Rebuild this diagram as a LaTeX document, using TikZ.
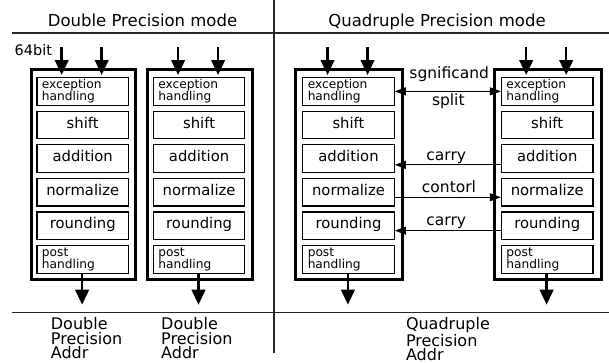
\documentclass[tikz,border=0pt]{standalone}
\usepackage{fontspec}
\setmainfont{DejaVu Sans}
\usetikzlibrary{arrows.meta,calc}
\begin{document}
\begin{tikzpicture}[x=1pt,y=-1pt,
  outerbox/.style={draw,line width=3pt},
  stagebase/.style={draw,line width=1.2pt,minimum width=91.5pt,minimum height=27.5pt,anchor=north},
  stageone/.style={stagebase,inner sep=0pt,font=\fontsize{14.8}{15}\selectfont,text height=11.2pt,text depth=5pt},
  stagetwo/.style={stagebase,inner xsep=5pt,inner ysep=0pt,text width=81.5pt,align=left,font=\fontsize{12.2}{12}\selectfont},
  bigarrow/.style={line width=2.5pt,-{Triangle[length=15pt,width=13.5pt]}},
  sidearrow/.style={line width=1pt,-{Triangle[length=11pt,width=8pt]}},
  dblarrow/.style={line width=1pt,{Triangle[length=11pt,width=8pt]}-{Triangle[length=11pt,width=8pt]}},
  midlabel/.style={anchor=base,inner sep=0pt,font=\fontsize{15.5}{16}\selectfont},
  title/.style={anchor=base,inner sep=0pt,font=\fontsize{16.5}{17}\selectfont},
  addr/.style={anchor=north west,inner sep=0pt,align=left,font=\fontsize{16}{14.3}\selectfont},
  rule/.style={line width=1.2pt,black!85}
]
\useasboundingbox (0,0) rectangle (609,362);

% frame lines
\draw[rule] (12,33) -- (609,33);
\draw[rule] (12,312.7) -- (609,312.7);
\draw[rule,line width=1.5pt] (274,0) -- (274,353);

% titles
\node[title] (t1) at (142.5,26.7) {Double Precision mode};
\node[title] (t2) at (437,26.7) {Quadruple Precision mode};
\node[anchor=base west,inner sep=0pt,font=\fontsize{14.5}{14}\selectfont] (bits) at (14.5,55) {64bit};

% outer boxes
\draw[outerbox] (31,69) rectangle (135.8,279.5);
\draw[outerbox] (147.2,69) rectangle (252.8,279.5);
\draw[outerbox] (295.8,69) rectangle (402.5,279.5);
\draw[outerbox] (494.8,69) rectangle (601.5,279.5);

% stages
\foreach \c/\x in {1/82.7,2/199.1,3/348.5,4/547.2}{
  \node[stagetwo] (e\c) at (\x,77) {exception\\handling};
  \node[stageone] (s\c) at (\x,110.6) {shift};
  \node[stageone] (a\c) at (\x,144.2) {addition};
  \node[stageone] (n\c) at (\x,177.8) {normalize};
  \node[stageone] (r\c) at (\x,211.4) {rounding};
  \node[stagetwo] (p\c) at (\x,245) {post\\handling};
  % input arrows
  \coordinate (ia\c) at ($(e\c.north)+(-21,-30)$);
  \coordinate (ib\c) at ($(e\c.north)+(19,-30)$);
  \draw[bigarrow,shorten >=2pt] (ia\c) -- (ia\c |- e\c.north);
  \draw[bigarrow,shorten >=2pt] (ib\c) -- (ib\c |- e\c.north);
  % output arrow
  \coordinate (o\c) at ($(p\c.south)+(-0.6,31)$);
  \draw[bigarrow] ($(p\c.south)+(-0.6,-1)$) -- (o\c);
}

% connections between the quadruple halves
\draw[dblarrow] (e3.east) -- (e4.west);
\draw[sidearrow] ([yshift=-6.3pt]a4.west) -- ([yshift=-6.3pt]a3.east);
\draw[sidearrow] ([yshift=-5.1pt]n3.east) -- ([yshift=-5.1pt]n4.west);
\draw[sidearrow] ([yshift=-4.9pt]r4.west) -- ([yshift=-4.9pt]r3.east);

\node[midlabel] (l1) at (449.2,78.3) {sgnificand};
\node[midlabel] (l2) at (448.3,105) {split};
\node[midlabel] (l3) at (446.2,160.7) {carry};
\node[midlabel] (l4) at (449,192.7) {contorl};
\node[midlabel] (l5) at (446.2,225.7) {carry};

% bottom labels
\node[addr] (d1) at (50.7,317.6) {Double\\Precision\\Addr};
\node[addr] (d2) at (161,317.6) {Double\\Precision\\Addr};
\node[addr] (q1) at (405.8,317.6) {Quadruple\\Precision\\Addr};
\end{tikzpicture}
\end{document}
